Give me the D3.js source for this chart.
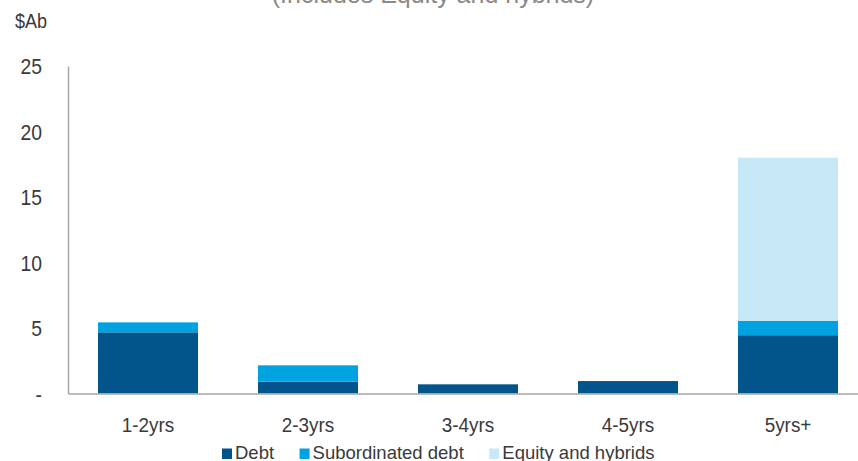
<!DOCTYPE html>
<html>
<head>
<meta charset="utf-8">
<script src="https://cdn.jsdelivr.net/npm/d3@7"></script>
<style>
  html, body { margin: 0; padding: 0; background: #fff; }
  svg { display: block; font-family: "Liberation Sans", Arial, sans-serif; }
</style>
</head>
<body>
<svg id="chart" width="858" height="461"></svg>
<script>
// Maturity buckets and stacked funding amounts ($A billions)
const categories = ["1-2yrs", "2-3yrs", "3-4yrs", "4-5yrs", "5yrs+"];
const debt = [4.67, 0.9, 0.7, 0.95, 4.45];
const subordinatedDebt = [0.76, 1.25, 0, 0, 1.1];
const equityHybrids = [0, 0, 0, 0, 12.45];
const seriesNames = ["Debt", "Subordinated debt", "Equity and hybrids"];
const yTicks = [0, 5, 10, 15, 20, 25];
const title = "(Includes Equity and hybrids)";
const unitLabel = "$Ab";

const colors = ["#02558b", "#00a2e0", "#c6e8f7"];
const keys = ["debt", "sub", "equity"];

const rows = categories.map((c, i) => ({
  cat: c, debt: debt[i], sub: subordinatedDebt[i], equity: equityHybrids[i]
}));
const stacked = d3.stack().keys(keys)(rows);

const svg = d3.select("#chart");
const plotLeft = 68, plotTop = 66, plotBottom = 393.5, plotW = 800;

const x = d3.scaleBand().domain(categories).range([plotLeft, plotLeft + plotW])
  .paddingInner(0.375).paddingOuter(0.1875);
const y = d3.scaleLinear().domain([0, 25]).range([plotBottom, plotTop]);

// Title (partly above the visible area)
svg.append("text").attr("x", 433).attr("y", 3)
  .attr("text-anchor", "middle").attr("font-size", 25).attr("fill", "#8a8a8a")
  .text(title);

// Unit label
svg.append("text").attr("transform", "translate(15,28) scale(0.86,1)")
  .attr("font-size", 21).attr("fill", "#3a3a3a").text(unitLabel);

// Bars
svg.append("g").selectAll("g").data(stacked).join("g")
  .attr("fill", (d, i) => colors[i])
  .selectAll("rect").data(d => d).join("rect")
  .attr("x", d => x(d.data.cat))
  .attr("width", x.bandwidth())
  .attr("y", d => y(d[1]))
  .attr("height", d => y(d[0]) - y(d[1]));

// Y axis
const yAxis = svg.append("g").attr("transform", `translate(${plotLeft},0)`)
  .call(d3.axisLeft(y).tickValues(yTicks).tickSize(0)
    .tickFormat(v => v === 0 ? "-" : d3.format("d")(v)));
yAxis.select(".domain").attr("stroke", "#a6a6a6").attr("stroke-width", 1.5);
yAxis.selectAll("text")
  .attr("font-size", 22).attr("fill", "#3a3a3a")
  .attr("font-family", "'Liberation Sans', Arial, sans-serif")
  .attr("x", -26 / 0.88).attr("dy", "0.36em")
  .attr("transform", "scale(0.88,1)");

// X axis
const xAxis = svg.append("g").attr("transform", `translate(0,${plotBottom})`)
  .call(d3.axisBottom(x).tickSize(0).tickSizeOuter(0));
xAxis.select(".domain").attr("stroke", "#a6a6a6").attr("stroke-width", 1.5);
xAxis.selectAll("text")
  .attr("font-size", 21).attr("fill", "#3a3a3a")
  .attr("font-family", "'Liberation Sans', Arial, sans-serif")
  .attr("y", 0).attr("dy", 0)
  .attr("transform", "translate(0,38) scale(0.9,1)");

// Legend
const legend = svg.append("g");
let lx = 222;
seriesNames.forEach((name, i) => {
  legend.append("rect").attr("x", lx).attr("y", 448.5)
    .attr("width", 10).attr("height", 10.5).attr("fill", colors[i]);
  const t = legend.append("text").attr("x", lx + 13).attr("y", 459)
    .attr("font-size", 18.5).attr("fill", "#3a3a3a").text(name);
  lx += 13 + t.node().getComputedTextLength() + 25.5;
});
</script>
</body>
</html>
